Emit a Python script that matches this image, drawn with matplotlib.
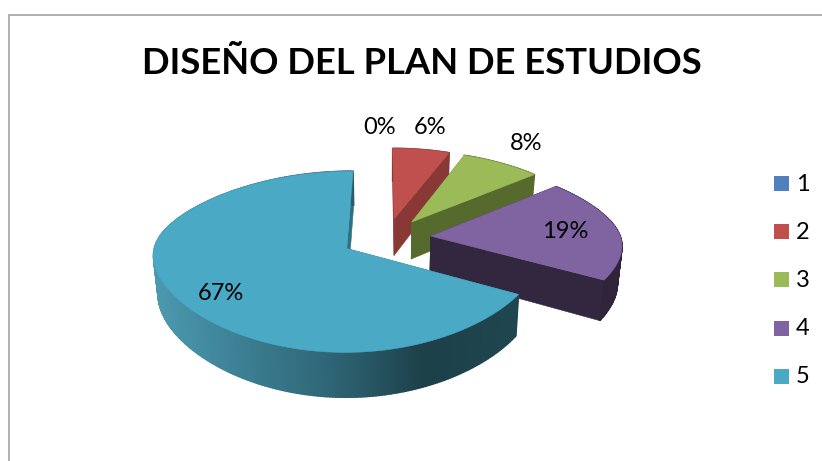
import numpy as np
import matplotlib
matplotlib.use("Agg")
import matplotlib.pyplot as plt
from matplotlib.patches import Polygon, Rectangle
from matplotlib.colors import to_rgb

title = "DISEÑO DEL PLAN DE ESTUDIOS"
categories = ["1", "2", "3", "4", "5"]
values = [0, 6, 8, 19, 67]
colors = ["#4f81bd", "#c0504d", "#9bbb59", "#8064a2", "#4aa9c4"]
cut_colors = ["#2f4d71", "#8a3836", "#566a2e", "#33273f", "#2f7084"]
side_stops = {
    1: [(0, "#8a3836"), (900, "#8a3836")],
    2: [(0, "#566a2e"), (900, "#566a2e")],
    3: [(0, "#33273f"), (900, "#2e2338")],
    4: [(150, "#4c9ab1"), (250, "#3b7c90"), (330, "#2e6575"), (425, "#1d4049"), (520, "#1f4650")],
}
label_xy = [(380, 127), (430, 127), (526, 143), (565, 231), (221, 293)]

W, H = 822, 461
CX, CY = 386, 238
RX, RY, PERSP = 190, 85.6, 0.144
PX_A, PX_C, PX_S = 0.125, 0.105, 0.3
EXPLODE = 0.237
DEPTH, DX, DY = 38, 0.98, 1.06

plt.rcParams["font.family"] = ["Lato", "DejaVu Sans"]
fig = plt.figure(figsize=(W / 100, H / 100), dpi=100)
ax = fig.add_axes([0, 0, 1, 1])
ax.set_xlim(0, W)
ax.set_ylim(H, 0)
ax.axis("off")


def top(u, v):
    w = 1 - PERSP * v
    wx = 1 - PX_A * v + PX_C * (np.hypot(v, PX_S) - PX_S)
    return CX + RX * u / wx, CY + RY * v / w


def low(u, v):
    x, y = top(u, v)
    return CX + DX * (x - CX), CY + DY * (y - CY) + DEPTH


def lerp_color(stops, x):
    xs = [s[0] for s in stops]
    cs = np.array([to_rgb(s[1]) for s in stops])
    return tuple(np.interp(x, xs, cs[:, i]) for i in range(3))


def poly(points, color, z, lw=0.4):
    ax.add_patch(Polygon(points, closed=True, facecolor=color, edgecolor=color,
                         linewidth=lw, zorder=z))


total = sum(values)
start = 0.0
for i, val in enumerate(values):
    span = 2 * np.pi * val / total
    end = start + span
    if val > 0:
        mid = (start + end) / 2
        ou, ov = EXPLODE * np.sin(mid), -EXPLODE * np.cos(mid)
        th = np.linspace(start, end, max(int(val * 4), 12))
        us, vs = ou + np.sin(th), ov - np.cos(th)
        z = 2 + i * 3
        apex_t, apex_b = top(ou, ov), low(ou, ov)
        # cut faces
        poly([apex_t, top(us[0], vs[0]), low(us[0], vs[0]), apex_b], cut_colors[i], z)
        poly([apex_t, top(us[-1], vs[-1]), low(us[-1], vs[-1]), apex_b], cut_colors[i], z)
        # outer wall
        for k in range(len(th) - 1):
            a, b = top(us[k], vs[k]), top(us[k + 1], vs[k + 1])
            c, d = low(us[k + 1], vs[k + 1]), low(us[k], vs[k])
            poly([a, b, c, d], lerp_color(side_stops[i], (a[0] + b[0]) / 2), z + 1, lw=1.1)
        # top surface
        rim = [top(u, v) for u, v in zip(us, vs)]
        poly([apex_t] + rim, colors[i], z + 2)
    start = end

for (lx, ly), val in zip(label_xy, values):
    ax.text(lx, ly, f"{val}%", fontsize=17, color="black", ha="center", va="center",
            zorder=30)

ax.text(422, 63, title, fontsize=26.2, fontweight="bold", color="black",
        ha="center", va="center", zorder=30)

for k, (name, col) in enumerate(zip(categories, colors)):
    yc = 184 + 48.2 * k
    ax.add_patch(Rectangle((774, yc - 8), 15, 15, facecolor=col, edgecolor="none", zorder=30))
    ax.text(796, yc, name, fontsize=17, color="black", ha="left", va="center", zorder=30)

ax.plot([W, 9, 9], [15, 15, H], color="#a3a3a3", lw=1.2, solid_joinstyle="miter", zorder=1)

fig.savefig("out.png", dpi=100)
